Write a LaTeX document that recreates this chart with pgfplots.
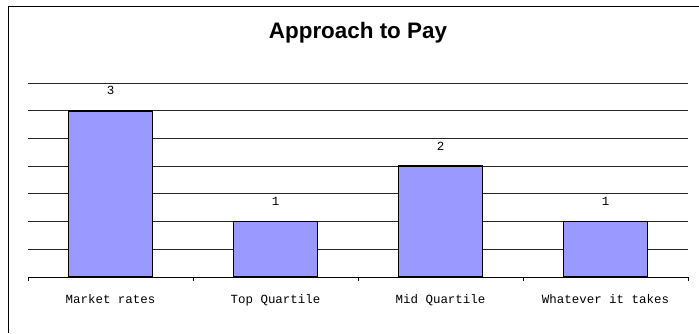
\documentclass[border=0pt]{standalone}
\usepackage{fontspec}
\setmainfont{Liberation Sans}
\newfontfamily\monofont{Liberation Mono}
\usepackage{pgfplots}
\pgfplotsset{compat=1.18}
\definecolor{barblue}{HTML}{9999FF}
\begin{document}
\begin{tikzpicture}[x=1bp,y=1bp]
\useasboundingbox (0,0) rectangle (699,333);
\draw[line width=1bp] (8,0) -- (8,326) -- (699,326);
\node[font=\fontsize{22.5}{26}\selectfont\bfseries] at (358,300) {Approach to Pay};
\begin{axis}[
  at={(28bp,56bp)}, anchor=south west,
  scale only axis, width=660bp, height=194bp,
  xmin=0.5, xmax=4.5, ymin=0, ymax=3.5,
  /pgf/number format/assume math mode=true,
  axis x line*=bottom, axis y line*=left,
  y axis line style={draw=none},
  x axis line style={line width=0.8bp},
  ytick={0.5,1,...,3.5}, yticklabels={}, ytick style={draw=none},
  ymajorgrids, grid style={black!85, line width=0.8bp},
  xtick={1,2,3,4},
  xticklabels={Market rates, Top Quartile, Mid Quartile, Whatever it takes},
  major x tick style={draw=none},
  minor xtick={0.5,1.5,2.5,3.5,4.5},
  minor x tick style={black, line width=0.8bp},
  minor tick length=4bp,
  xtick align=outside,
  xticklabel style={font=\monofont\fontsize{12.5}{14}\selectfont, anchor=base, yshift=-22bp},
  ybar, bar width=84bp,
  nodes near coords,
  every node near coord/.append style={font=\monofont\fontsize{12.5}{14}\selectfont, anchor=center, yshift=20bp},
]
\addplot[fill=barblue, draw=black, line width=1.6bp] coordinates {(1,3) (2,1) (3,2) (4,1)};
\end{axis}
\end{tikzpicture}
\end{document}
